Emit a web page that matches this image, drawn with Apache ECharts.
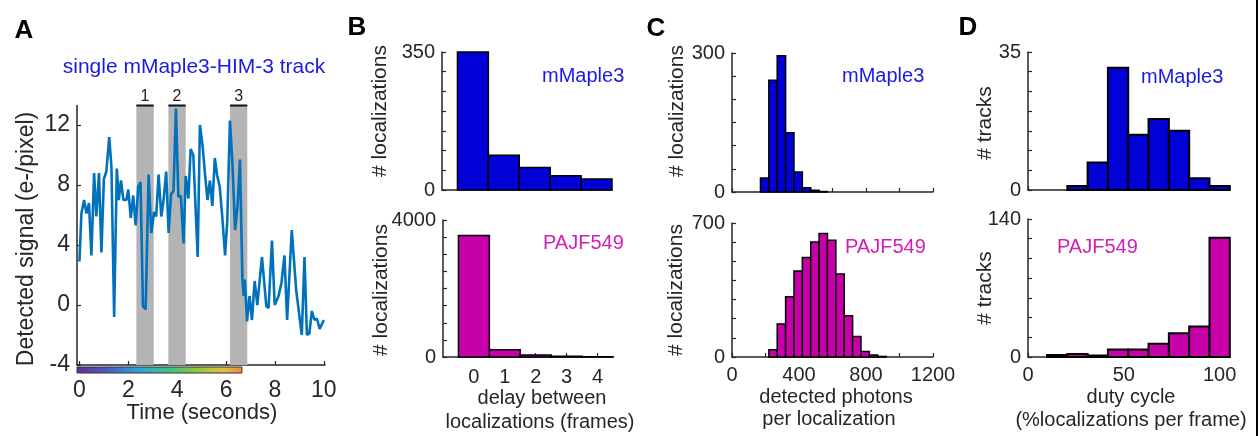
<!DOCTYPE html>
<html>
<head>
<meta charset="UTF-8">
<title>Figure</title>
<script src="https://cdn.jsdelivr.net/npm/echarts@6/dist/echarts.min.js"></script>
<style>
    html, body { margin: 0; padding: 0; background: #fff; }
    #fig { width: 1260px; height: 436px; }
</style>
</head>
<body>
<div id="fig"></div>
<script type="text/javascript">
    // A: single track trace (time in s, signal in e-/pixel)
    var trackTime = [0.0, 0.08, 0.19, 0.29, 0.39, 0.49, 0.6, 0.69, 0.8, 0.9, 1.0, 1.1, 1.22, 1.31, 1.42, 1.53,
        1.61, 1.7, 1.8, 1.92, 2.0, 2.1, 2.2, 2.3, 2.41, 2.5, 2.6, 2.71, 2.83, 2.94, 3.05, 3.14, 3.24, 3.35,
        3.45, 3.55, 3.65, 3.75, 3.85, 3.95, 4.05, 4.15, 4.26, 4.35, 4.46, 4.55, 4.66, 4.84, 4.93, 5.04, 5.14,
        5.24, 5.34, 5.44, 5.54, 5.64, 5.74, 5.85, 5.96, 6.05, 6.16, 6.26, 6.37, 6.47, 6.57, 6.67, 6.72, 6.77,
        6.86, 6.96, 7.06, 7.17, 7.28, 7.47, 7.65, 7.74, 7.88, 7.99, 8.15, 8.27, 8.39, 8.5, 8.69, 8.87, 9.1,
        9.21, 9.31, 9.41, 9.51, 9.62, 9.72, 9.83, 10.0];
    var trackSignal = [2.9, 6.1, 7.0, 6.1, 6.8, 3.3, 8.8, 5.9, 8.8, 3.5, 8.4, 8.9, 11.2, 9.2, -0.8, 9.1,
        7.0, 8.3, 7.0, 7.0, 7.7, 5.8, 7.3, 5.3, 7.9, 8.2, -0.1, -0.3, 8.7, 4.8, 6.2, 5.9, 8.7, 5.9,
        7.1, 8.9, 4.8, 7.4, 7.6, 13.1, 7.2, 7.3, 4.1, 8.6, 7.1, 10.4, 10.0, 3.2, 12.0, 10.6, 8.7,
        7.0, 8.3, 6.6, 9.8, 8.6, 7.9, 5.8, 3.3, 5.6, 12.3, 9.5, 5.0, 6.6, 9.7, 1.7, 0.6, 1.7,
        -1.1, 0.6, -1.0, 1.6, 0.0, 3.2, -0.1, -0.2, 4.3, 0.0, 0.6, 1.5, 3.3, -1.0, 5.0, 1.0, -2.0,
        3.2, -2.0, -1.9, -0.4, -1.0, -0.9, -1.6, -1.0];
    var bandStart = [2.33, 3.64, 6.16];
    var bandEnd = [3.04, 4.35, 6.87];
    var bandNames = ['1', '2', '3'];
    var timeTicks = [0, 2, 4, 6, 8, 10];
    var signalTicks = [-4, 0, 4, 8, 12];

    // B: delay between localizations (frames)
    var delayBins = [0, 1, 2, 3, 4];
    var delayMaple = [350, 88, 57, 36, 28];
    var delayPajf = [3550, 213, 58, 20, 10];

    // C: detected photons per localization (bin centres, width 50)
    var photonMapleBins = [195, 245, 295, 345, 395, 445, 495, 545];
    var photonMaple = [30, 241, 294, 128, 43, 9, 4, 1];
    var photonPajfBins = [245, 295, 345, 395, 445, 495, 545, 595, 645, 695, 745, 795, 845, 895];
    var photonPajf = [38, 173, 315, 449, 520, 601, 645, 610, 433, 215, 107, 29, 10, 3];

    // D: duty cycle (bin centres, width 10.6)
    var dutyBins = [15.2, 25.8, 36.4, 47.0, 57.6, 68.2, 78.8, 89.4, 100];
    var dutyMaple = [0, 1, 7, 31, 14, 18, 15, 3, 1];
    var dutyPajf = [2, 3, 1.5, 7.5, 7.5, 13.5, 24, 31, 121];

    var FONT = '"Liberation Sans", Arial, sans-serif';
    var INK = '#262626';
    var BLUE = '#0000d7';
    var MAGENTA = '#c800aa';
    var BLUE_TXT = '#1a1ae0';
    var MAG_TXT = '#d21eb4';

    function pairs(xs, ys) {
        var out = [];
        for (var i = 0; i < xs.length; i++) out.push([xs[i], ys[i]]);
        return out;
    }

    function axis(gridIndex, min, max, ticks, labels, fontSize, margin) {
        return {
            type: 'value', gridIndex: gridIndex, min: min, max: max,
            axisLine: {show: true, onZero: false, lineStyle: {color: INK, width: 1.5}},
            axisTick: {show: true, inside: true, length: 4, customValues: ticks,
                lineStyle: {color: INK, width: 1.2}},
            axisLabel: {show: !!labels, customValues: labels || [], color: INK,
                fontFamily: FONT, fontSize: fontSize, margin: margin,
                formatter: function (v) { return String(v); }},
            splitLine: {show: false}
        };
    }

    function range(a, b, step) {
        var out = [];
        for (var v = a; v <= b + 1e-9; v += step) out.push(v);
        return out;
    }

    function hist(idx, bins, counts, width, color, lw) {
        return {
            type: 'custom', xAxisIndex: idx, yAxisIndex: idx,
            data: pairs(bins, counts),
            encode: {x: 0, y: 1},
            renderItem: function (params, api) {
                var c = api.value(0), n = api.value(1);
                if (!n) return;
                var p0 = api.coord([c - width / 2, 0]);
                var p1 = api.coord([c + width / 2, n]);
                return {
                    type: 'rect',
                    shape: {x: p0[0], y: p1[1], width: p1[0] - p0[0], height: p0[1] - p1[1]},
                    style: {fill: color, stroke: '#000', lineWidth: lw}
                };
            }
        };
    }

    function txt(x, y, s, size, color, opts) {
        opts = opts || {};
        return {
            type: 'text', x: x, y: y, rotation: opts.rot || 0,
            style: {
                text: s, fill: color || INK,
                font: (opts.bold ? 'bold ' : '') + size + 'px ' + FONT,
                textAlign: opts.align || 'center', align: opts.align || 'center',
                textVerticalAlign: 'middle', verticalAlign: 'middle'
            }
        };
    }

    var chart = echarts.init(document.getElementById('fig'));

    var option = {
        animation: false,
        backgroundColor: '#fff',
        grid: [
            {left: 77, top: 105.5, width: 248, height: 259.5},   // A
            {left: 442, top: 52, width: 170, height: 138},       // B top
            {left: 443, top: 220, width: 170, height: 137},      // B bottom
            {left: 732, top: 53, width: 201, height: 139},       // C top
            {left: 732, top: 223, width: 201, height: 134},      // C bottom
            {left: 1028, top: 52, width: 202, height: 138},      // D top
            {left: 1028, top: 219, width: 202, height: 138}      // D bottom
        ],
        xAxis: [
            axis(0, -0.1, 10.05, timeTicks, timeTicks, 23, 14),
            axis(1, -1, 4.5, delayBins, null, 20, 10),
            axis(2, -1, 4.5, delayBins, delayBins, 20, 10),
            axis(3, 0, 1200, range(0, 1200, 200), null, 20, 8),
            axis(4, 0, 1200, range(0, 1200, 200), [0, 400, 800, 1200], 20, 8),
            axis(5, 0, 105.4, [0, 50, 100], null, 20, 8),
            axis(6, 0, 105.4, [0, 50, 100], [0, 50, 100], 20, 8)
        ],
        yAxis: [
            axis(0, -4, 13.3, signalTicks, signalTicks, 23, 7),
            axis(1, 0, 350, range(0, 350, 50), [0, 350], 20, 7),
            axis(2, 0, 4000, range(0, 4000, 500), [0, 4000], 20, 7),
            axis(3, 0, 300, range(0, 300, 50), [0, 300], 20, 7),
            axis(4, 0, 700, range(0, 700, 100), [0, 700], 20, 7),
            axis(5, 0, 35, range(0, 35, 5), [0, 35], 20, 7),
            axis(6, 0, 140, range(0, 140, 20), [0, 140], 20, 7)
        ],
        series: [
            {
                // shaded frames 1-3
                type: 'custom', xAxisIndex: 0, yAxisIndex: 0, z: 1,
                data: pairs(bandStart, bandEnd),
                encode: {x: [0, 1]},
                renderItem: function (params, api) {
                    var a = api.coord([api.value(0), -4]);
                    var b = api.coord([api.value(1), 13.3]);
                    return {
                        type: 'group', children: [
                            {type: 'rect', shape: {x: a[0], y: b[1], width: b[0] - a[0], height: a[1] - b[1]},
                                style: {fill: '#b4b4b4'}},
                            {type: 'line', shape: {x1: a[0], y1: b[1], x2: b[0], y2: b[1]},
                                style: {stroke: '#111', lineWidth: 2}},
                            {type: 'text', x: (a[0] + b[0]) / 2, y: b[1] - 9,
                                style: {text: bandNames[params.dataIndex], font: '16px ' + FONT, fill: '#222',
                                    align: 'center', verticalAlign: 'middle',
                                    textAlign: 'center', textVerticalAlign: 'middle'}}
                        ]
                    };
                }
            },
            {
                type: 'line', xAxisIndex: 0, yAxisIndex: 0, z: 3,
                data: pairs(trackTime, trackSignal),
                symbol: 'none',
                lineStyle: {color: '#0072bd', width: 2.6},
                itemStyle: {color: '#0072bd'}
            },
            hist(1, delayBins, delayMaple, 1, BLUE, 1.5),
            hist(2, delayBins, delayPajf, 1, MAGENTA, 1.5),
            hist(3, photonMapleBins, photonMaple, 50, BLUE, 1.5),
            hist(4, photonPajfBins, photonPajf, 50, MAGENTA, 1.5),
            hist(5, dutyBins, dutyMaple, 10.6, BLUE, 2),
            hist(6, dutyBins, dutyPajf, 10.6, MAGENTA, 2)
        ]
    };
    chart.setOption(option);

    // colour bar under the time axis
    var c0 = chart.convertToPixel({gridIndex: 0}, [-0.1, -4]);
    var c1 = chart.convertToPixel({gridIndex: 0}, [6.65, -4]);

    var graphics = [
        {
            type: 'rect', shape: {x: c0[0], y: c0[1] + 2, width: c1[0] - c0[0], height: 6},
            style: {
                stroke: '#333', lineWidth: 1,
                fill: new echarts.graphic.LinearGradient(0, 0, 1, 0, [
                    {offset: 0, color: '#6a2c91'},
                    {offset: 0.2, color: '#4a5fd0'},
                    {offset: 0.38, color: '#2fa6d8'},
                    {offset: 0.55, color: '#3cc08a'},
                    {offset: 0.72, color: '#8cc83c'},
                    {offset: 0.88, color: '#e0c23a'},
                    {offset: 1, color: '#f08a40'}
                ])
            }
        },
        {type: 'line', shape: {x1: 1257, y1: 0, x2: 1257, y2: 436}, style: {stroke: '#000', lineWidth: 2}},

        txt(24, 31, 'A', 26, '#000', {bold: true}),
        txt(357, 28, 'B', 26, '#000', {bold: true}),
        txt(656, 29, 'C', 26, '#000', {bold: true}),
        txt(968, 28, 'D', 26, '#000', {bold: true}),

        txt(194, 67, 'single mMaple3-HIM-3 track', 21, BLUE_TXT),
        txt(27, 239, 'Detected signal (e-/pixel)', 23, INK, {rot: Math.PI / 2}),
        txt(202, 413, 'Time (seconds)', 22, INK),

        txt(380, 111, '# localizations', 21, INK, {rot: Math.PI / 2}),
        txt(381, 290, '# localizations', 21, INK, {rot: Math.PI / 2}),
        txt(542, 398, 'delay between', 20, INK),
        txt(540, 422, 'localizations (frames)', 20, INK),
        txt(542, 76, 'mMaple3', 20, BLUE_TXT, {align: 'left'}),
        txt(543, 243, 'PAJF549', 20, MAG_TXT, {align: 'left'}),

        txt(677, 111, '# localizations', 21, INK, {rot: Math.PI / 2}),
        txt(676, 290, '# localizations', 21, INK, {rot: Math.PI / 2}),
        txt(836, 397, 'detected photons', 20, INK),
        txt(829, 419, 'per localization', 20, INK),
        txt(842, 76, 'mMaple3', 20, BLUE_TXT, {align: 'left'}),
        txt(845, 247, 'PAJF549', 20, MAG_TXT, {align: 'left'}),

        txt(985, 123, '# tracks', 21, INK, {rot: Math.PI / 2}),
        txt(985, 288, '# tracks', 21, INK, {rot: Math.PI / 2}),
        txt(1131, 397, 'duty cycle', 20, INK),
        txt(1131, 420, '(%localizations per frame)', 20, INK),
        txt(1141, 77, 'mMaple3', 20, BLUE_TXT, {align: 'left'}),
        txt(1057, 247, 'PAJF549', 20, MAG_TXT, {align: 'left'})
    ];
    chart.setOption({graphic: graphics});
</script>
</body>
</html>
